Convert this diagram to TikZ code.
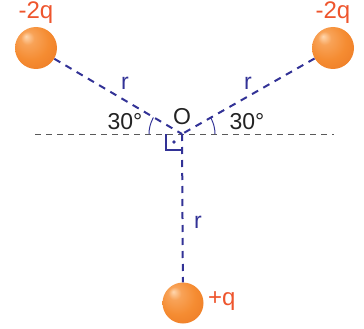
\documentclass[tikz,border=0pt]{standalone}
\usepackage{fontspec}
\setmainfont{Liberation Sans}
\usetikzlibrary{shadings}
\definecolor{lineblue}{RGB}{50,50,150}
\definecolor{chargeRed}{RGB}{238,85,45}
\definecolor{ballOrange}{RGB}{245,140,50}
\definecolor{ballLight}{RGB}{255,215,175}
\definecolor{ballEdge}{RGB}{235,120,35}
\definecolor{txt}{RGB}{35,35,35}
\pgfdeclareradialshading{orangeball}{\pgfpoint{-12bp}{14bp}}{%
  color(0bp)=(ballLight); color(8bp)=(ballOrange!70!ballLight);
  color(22bp)=(ballOrange); color(40bp)=(ballEdge); color(50bp)=(ballEdge)}
\begin{document}
\begin{tikzpicture}[x=1pt,y=-1pt,
  link/.style={draw=lineblue,line width=2pt,dash pattern=on 7pt off 6pt},
  axis/.style={draw=gray!70!black,line width=1pt,dash pattern=on 6pt off 5pt},
  ball/.style={circle,minimum size=42pt,inner sep=0pt,shading=orangeball,draw=none},
  charge/.style={text=chargeRed,font=\fontsize{24}{24}\selectfont,inner sep=0pt},
  lab/.style={text=txt,font=\fontsize{23}{23}\selectfont,inner sep=0pt},
  rlab/.style={text=lineblue,font=\fontsize{23}{23}\selectfont,inner sep=0pt}]
\useasboundingbox (0,0) rectangle (364,329);
\coordinate (O) at (182,134);
\coordinate (axL) at (35,134);
\coordinate (axR) at (334,134);
\draw[axis] (axL) -- (axR);
\node[ball] (b1) at (36,48) {};
\node[ball] (b2) at (333,48) {};
\node[ball,minimum size=41pt] (b3) at (183,303) {};
\draw[link] (b1) -- (O);
\draw[link] (b2) -- (O);
\draw[link] (O) -- (b3);
% angle arcs
\draw[lineblue,line width=1pt] (O) ++(180:33) arc[start angle=180,end angle=210,radius=33];
\draw[lineblue,line width=1pt] (O) ++(0:33) arc[start angle=0,end angle=-30,radius=33];
% right angle marker
\draw[lineblue,line width=1.4pt] (166,134) -- (166,150) -- (182,150);
\fill[lineblue] (174,142) circle[radius=1.8];
\node[charge] (c1) at (36,13) {-2q};
\node[charge] (c2) at (333,13) {-2q};
\node[charge,anchor=west] (c3) at (208,301) {+q};
\node[rlab] (r1) at (125,83) {r};
\node[rlab] (r2) at (248,83) {r};
\node[rlab] (r3) at (198,222) {r};
\node[lab] (a1) at (125,122) {30°};
\node[lab] (a2) at (247,122) {30°};
\node[lab] (o) at (182,117) {O};
\end{tikzpicture}
\end{document}
